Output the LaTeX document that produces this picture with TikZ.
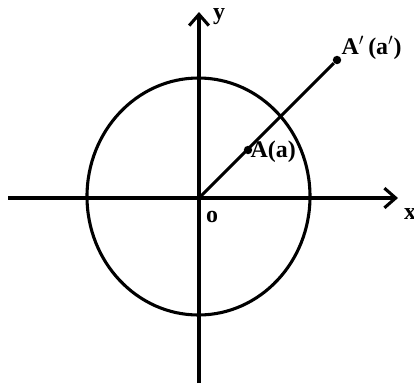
\documentclass[tikz,border=0pt]{standalone}
\usepackage{fontspec}
\setmainfont{Liberation Serif}
\usetikzlibrary{arrows.meta}
\begin{document}
\begin{tikzpicture}[x=0.025cm,y=-0.025cm,
  axis/.style={line width=2.2pt,-{Straight Barb[length=8pt,width=14pt,line width=2.2pt]}},
  curve/.style={line width=2.2pt},
  pt/.style={circle,fill=black,inner sep=0pt,minimum size=6pt},
  lbl/.style={font=\fontsize{17}{19}\selectfont\bfseries,inner sep=1pt}]
\useasboundingbox (0,0) rectangle (414,383);
\coordinate (O) at (199,198);
\coordinate (xl) at (8,198);
\coordinate (xr) at (398,198);
\coordinate (yb) at (199,383);
\coordinate (yt) at (199,12);
\draw[axis] (xl) -- (xr);
\draw[axis] (yb) -- (yt);
\draw[curve] (198.5,196.5) ellipse [x radius=111.5, y radius=118.5];
\node[pt] (A) at (248,150) {};
\node[pt] (Ap) at (337,60) {};
\draw[curve] (O) -- (Ap);
\node[lbl,anchor=west] (Al) at (249,152) {A(a)};
\node[lbl,anchor=west] (Apl) at (340,48) {A$'$\,(a$'$)};
\node[lbl] (yl) at (219,17) {y};
\node[lbl] (xlab) at (410,214) {x};
\node[lbl] (ol) at (212,217) {o};
\end{tikzpicture}
\end{document}
